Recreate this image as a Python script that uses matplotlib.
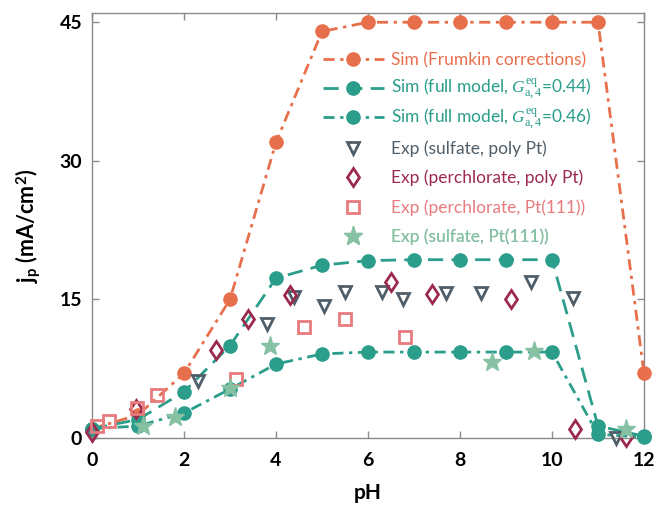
import matplotlib
matplotlib.use("Agg")
import matplotlib.pyplot as plt

plt.rcParams['font.family'] = ['Lato', 'DejaVu Sans']
plt.rcParams['mathtext.fontset'] = 'custom'
plt.rcParams['mathtext.rm'] = 'Liberation Serif'
plt.rcParams['mathtext.it'] = 'Liberation Serif:italic'
plt.rcParams['mathtext.bf'] = 'Lato:bold'

# Simulated peak current density vs pH
ph_sim = [0, 1, 2, 3, 4, 5, 6, 7, 8, 9, 10, 11, 12]
j_frumkin = [1.0, 2.5, 7.0, 15.0, 32.0, 44.0, 45.0, 45.0, 45.0, 45.0, 45.0, 45.0, 7.0]
j_full_044 = [1.0, 2.0, 5.0, 10.0, 17.3, 18.7, 19.2, 19.3, 19.3, 19.3, 19.3, 1.3, 0.2]
j_full_046 = [1.0, 1.3, 2.7, 5.3, 8.0, 9.1, 9.3, 9.3, 9.3, 9.3, 9.3, 0.4, 0.1]

# Experimental peak current densities
ph_sulf_poly = [2.3, 3.8, 4.4, 5.05, 5.5, 6.3, 6.75, 7.7, 8.45, 9.55, 10.45, 11.4]
j_sulf_poly = [6.2, 12.3, 15.3, 14.3, 15.8, 15.8, 15.0, 15.7, 15.7, 16.9, 15.1, 0.0]

ph_perc_poly = [0.0, 0.95, 2.7, 3.4, 4.3, 6.5, 7.4, 9.1, 10.5, 11.6]
j_perc_poly = [0.6, 3.1, 9.5, 12.9, 15.5, 16.9, 15.6, 15.0, 1.0, 0.1]

ph_perc_111 = [0.1, 0.37, 0.98, 1.42, 3.14, 4.6, 5.5, 6.8]
j_perc_111 = [1.3, 1.8, 3.3, 4.7, 6.4, 12.0, 12.9, 10.9]

ph_sulf_111 = [1.1, 1.8, 3.0, 3.88, 8.7, 9.6, 11.6]
j_sulf_111 = [1.3, 2.3, 5.4, 10.0, 8.2, 9.4, 1.0]

c_orange = '#e86f4c'
c_teal = '#2a9d8b'
c_gray = '#4f5e69'
c_maroon = '#9c2a4e'
c_pink = '#e77b7e'
c_star = '#86c1a4'

fig = plt.figure(figsize=(6.58, 5.05), dpi=100)
ax = fig.add_axes([92/658, 1-438/505, (644-92)/658, (438-13)/505])

ms = 9.5
dashdot = (0, (4, 2, 1.2, 2))
handles = []
handles += ax.plot(ph_sim, j_frumkin, color=c_orange, lw=2, linestyle=dashdot,
                   marker='o', ms=ms, clip_on=False, zorder=4,
                   label='Sim (Frumkin corrections)')
handles += ax.plot(ph_sim, j_full_044, color=c_teal, lw=2, linestyle=(0, (5.5, 3)),
                   marker='o', ms=ms, clip_on=False, zorder=4,
                   label=r'Sim (full model, $G_{\mathrm{a,4}}^{\mathrm{eq}}$=0.44)')
handles += ax.plot(ph_sim, j_full_046, color=c_teal, lw=2, linestyle=dashdot,
                   marker='o', ms=ms, clip_on=False, zorder=4,
                   label=r'Sim (full model, $G_{\mathrm{a,4}}^{\mathrm{eq}}$=0.46)')

handles += ax.plot(ph_sulf_poly, j_sulf_poly, linestyle='none', marker='v', ms=9,
                   mfc='none', mec=c_gray, mew=2, clip_on=False, zorder=5,
                   label='Exp (sulfate, poly Pt)')
handles += ax.plot(ph_perc_poly, j_perc_poly, linestyle='none', marker='d', ms=9.5,
                   mfc='none', mec=c_maroon, mew=2, clip_on=False, zorder=5,
                   label='Exp (perchlorate, poly Pt)')
handles += ax.plot(ph_perc_111, j_perc_111, linestyle='none', marker='s', ms=8,
                   mfc='none', mec=c_pink, mew=2, clip_on=False, zorder=5,
                   label='Exp (perchlorate, Pt(111))')
handles += ax.plot(ph_sulf_111, j_sulf_111, linestyle='none', marker='*', ms=14,
                   color=c_star, mec=c_star, clip_on=False, zorder=5,
                   label='Exp (sulfate, Pt(111))')

ax.set_xlim(0, 12)
ax.set_ylim(0, 46)
ax.set_xticks(range(0, 13, 2))
ax.set_yticks([0, 15, 30, 45])
for sp in ax.spines.values():
    sp.set_color('#8a8a8a')
    sp.set_linewidth(1)
ax.tick_params(direction='in', length=5, width=1, color='#8a8a8a',
               top=True, right=True, labelsize=14)
ax.tick_params(axis='x', pad=10)
ax.tick_params(axis='y', pad=7)
for lab in ax.get_xticklabels() + ax.get_yticklabels():
    lab.set_fontweight('bold')

ax.set_xlabel('pH', fontsize=15, fontweight='bold', labelpad=10)
ax.set_ylabel(r'j$_{\mathbf{p}}$ (mA/cm$^{\mathbf{2}}$)', fontsize=15.5,
              fontweight='bold', labelpad=12)

# One legend row per series, evenly spaced down the plot
colors = [c_orange, c_teal, c_teal, c_gray, c_maroon, c_pink, c_star]
row_top = 0.889
row_step = 0.0694
for i, (h, c) in enumerate(zip(handles, colors)):
    leg = ax.legend(handles=[h], loc='center left',
                    bbox_to_anchor=(0.4185, row_top - i * row_step),
                    frameon=False, numpoints=1, fontsize=12.5,
                    handlelength=3.5, handletextpad=0.4,
                    borderpad=0, borderaxespad=0)
    leg.get_texts()[0].set_color(c)
    ax.add_artist(leg)

fig.savefig('out.png', dpi=100)
